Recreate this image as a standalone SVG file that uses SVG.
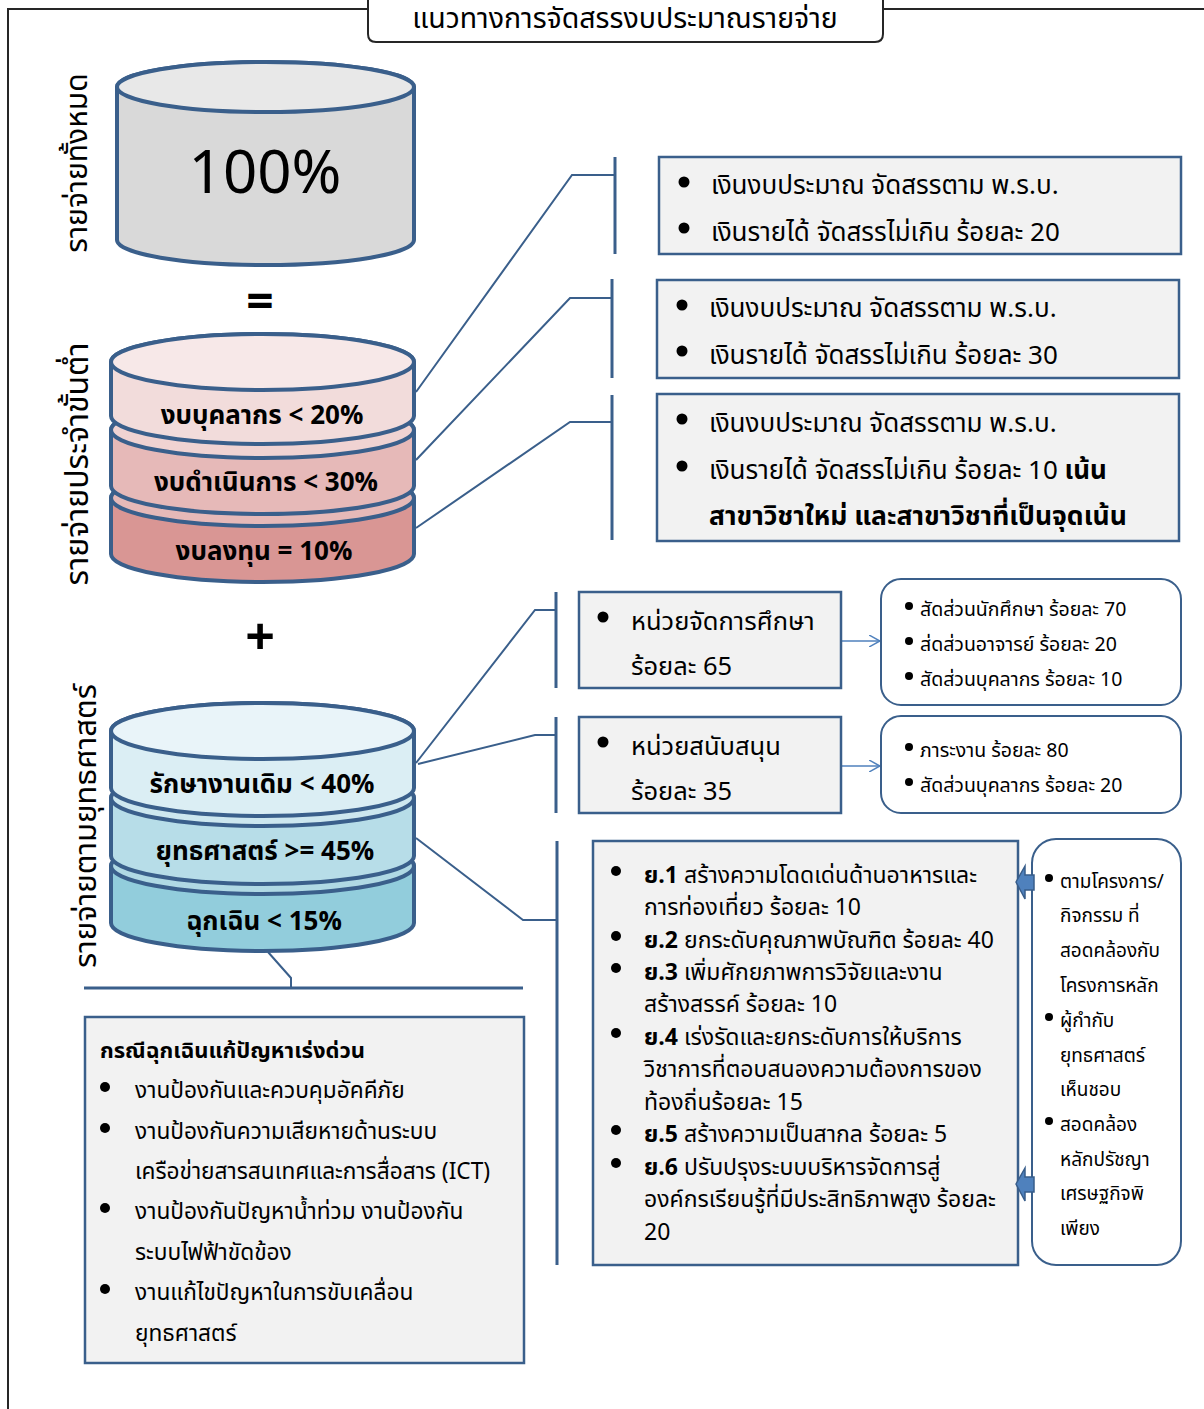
<svg xmlns="http://www.w3.org/2000/svg" width="1204" height="1409" viewBox="0 0 1204 1409">
<defs>
<style>
.t{font-family:"Noto Sans Thai","Noto Sans","DejaVu Sans",sans-serif;fill:#000}
.b{font-weight:bold}
.box{fill:#f2f2f2;stroke:#3a5f8b;stroke-width:2.5}
.rbox{fill:#fff;stroke:#3a5f8b;stroke-width:2}
.cyl{stroke:#3a5f8b;stroke-width:4}
.con{fill:none;stroke:#3a5f8b;stroke-width:2}
.brk{fill:none;stroke:#3a5f8b;stroke-width:3}
.arr{fill:none;stroke:#4f81bd;stroke-width:1.5}
.blk{fill:#4f81bd;stroke:#385d8a;stroke-width:1.5}
</style>
<marker id="oa" viewBox="0 0 12 12" refX="11" refY="6" markerWidth="12" markerHeight="12" markerUnits="userSpaceOnUse" orient="auto">
<path d="M0,0 L11,6 L0,12" fill="none" stroke="#4f81bd" stroke-width="1.5"/>
</marker>
</defs>
<rect width="1204" height="1409" fill="#fff"/>

<g id="frame">
<path d="M8,1409 L8,9 L368,9 M883,9 L1204,9" fill="none" stroke="#262626" stroke-width="2"/>
</g>

<g id="title">
<path d="M368,-4 L368,34 Q368,42 376,42 L875,42 Q883,42 883,34 L883,-4" fill="#fff" stroke="#262626" stroke-width="2"/>
<text class="t" x="625" y="28" font-size="28.5" text-anchor="middle">แนวทางการจัดสรรงบประมาณรายจ่าย</text>
</g>

<g id="connectors">
<path class="con" d="M416,392 L572,175 L615,175"/>
<path class="brk" d="M615,157 L615,254"/>
<path class="con" d="M416,460 L570,298 L612,298"/>
<path class="brk" d="M612,279 L612,378"/>
<path class="con" d="M416,528 L570,422 L612,422"/>
<path class="brk" d="M612,395 L612,540"/>
<path class="con" d="M416,763 L535,610 L556,610"/>
<path class="brk" d="M556,592 L556,688"/>
<path class="con" d="M418,764 L535,735 L556,735"/>
<path class="brk" d="M556,717 L556,813"/>
<path class="con" d="M416,838 L523,920 L557,920"/>
<path class="brk" d="M557,841 L557,1265"/>
<path class="con" d="M268,952 L291,978 L291,988"/>
<path class="brk" d="M84,988 L523,988"/>
<line class="arr" x1="842" y1="641" x2="880" y2="641" marker-end="url(#oa)"/>
<line class="arr" x1="842" y1="766" x2="880" y2="766" marker-end="url(#oa)"/>
</g>

<g id="cyl-total">
<path class="cyl" fill="#d9d9d9" d="M117,87 L117,240 A148.5,25 0 0 0 414,240 L414,87 A148.5,25 0 0 0 117,87 Z"/>
<ellipse class="cyl" cx="265.5" cy="87" rx="148.5" ry="25" fill="#e8e8e8"/>
<text class="t" x="265" y="193" font-size="60" text-anchor="middle">100%</text>
</g>
<text class="t" transform="translate(87,163) rotate(-90)" font-size="30" text-anchor="middle">รายจ่ายทั้งหมด</text>
<text class="t b" x="260" y="318" font-size="48" text-anchor="middle">=</text>

<g id="cyl-min">
<path class="cyl" fill="#d99694" d="M111,498 L111,554 A151.5,28 0 0 0 414,554 L414,498 A151.5,28 0 0 0 111,498 Z"/>
<ellipse class="cyl" cx="262.5" cy="498" rx="151.5" ry="28" fill="#e6b9b8"/>
<path class="cyl" fill="#e6b9b8" d="M111,430 L111,486 A151.5,28 0 0 0 414,486 L414,430 A151.5,28 0 0 0 111,430 Z"/>
<ellipse class="cyl" cx="262.5" cy="430" rx="151.5" ry="28" fill="#f0d3d2"/>
<path class="cyl" fill="#f2dcdb" d="M111,362 L111,416 A151.5,28 0 0 0 414,416 L414,362 A151.5,28 0 0 0 111,362 Z"/>
<ellipse class="cyl" cx="262.5" cy="362" rx="151.5" ry="28" fill="#f7e8e8"/>
<text class="t b" x="262" y="424" font-size="26" text-anchor="middle">งบบุคลากร &lt; 20%</text>
<text class="t b" x="266" y="491" font-size="26" text-anchor="middle">งบดำเนินการ &lt; 30%</text>
<text class="t b" x="264" y="560" font-size="26" text-anchor="middle">งบลงทุน = 10%</text>
</g>
<text class="t" transform="translate(88,464) rotate(-90)" font-size="32" text-anchor="middle">รายจ่ายประจำขั้นต่ำ</text>
<text class="t b" x="260" y="655" font-size="52" text-anchor="middle">+</text>

<g id="cyl-strat">
<path class="cyl" fill="#92cddc" d="M111,866 L111,923 A151.5,28 0 0 0 414,923 L414,866 A151.5,28 0 0 0 111,866 Z"/>
<ellipse class="cyl" cx="262.5" cy="866" rx="151.5" ry="28" fill="#b0d9e4"/>
<path class="cyl" fill="#b7dde8" d="M111,798 L111,856 A151.5,28 0 0 0 414,856 L414,798 A151.5,28 0 0 0 111,798 Z"/>
<ellipse class="cyl" cx="262.5" cy="798" rx="151.5" ry="28" fill="#cde7ef"/>
<path class="cyl" fill="#dbeef4" d="M111,731 L111,788 A151.5,28 0 0 0 414,788 L414,731 A151.5,28 0 0 0 111,731 Z"/>
<ellipse class="cyl" cx="262.5" cy="731" rx="151.5" ry="28" fill="#e9f4f9"/>
<text class="t b" x="262" y="793" font-size="26" text-anchor="middle">รักษางานเดิม &lt; 40%</text>
<text class="t b" x="265" y="860" font-size="26" text-anchor="middle">ยุทธศาสตร์ &gt;= 45%</text>
<text class="t b" x="264" y="930" font-size="26" text-anchor="middle">ฉุกเฉิน &lt; 15%</text>
</g>
<text class="t" transform="translate(96,826) rotate(-90)" font-size="31" text-anchor="middle">รายจ่ายตามยุทธศาสตร์</text>

<g id="box-a">
<rect class="box" x="659" y="157" width="522" height="97"/>
<circle cx="684" cy="182" r="5.5"/><circle cx="684" cy="228" r="5.5"/>
<text class="t" x="711" y="194" font-size="26">เงินงบประมาณ จัดสรรตาม พ.ร.บ.</text>
<text class="t" x="711" y="241" font-size="26">เงินรายได้ จัดสรรไม่เกิน ร้อยละ 20</text>
</g>
<g id="box-b">
<rect class="box" x="657" y="280" width="522" height="98"/>
<circle cx="682" cy="305" r="5.5"/><circle cx="682" cy="351" r="5.5"/>
<text class="t" x="709" y="317" font-size="26">เงินงบประมาณ จัดสรรตาม พ.ร.บ.</text>
<text class="t" x="709" y="364" font-size="26">เงินรายได้ จัดสรรไม่เกิน ร้อยละ 30</text>
</g>
<g id="box-c">
<rect class="box" x="657" y="394" width="522" height="147"/>
<circle cx="682" cy="419" r="5.5"/><circle cx="682" cy="466" r="5.5"/>
<text class="t" x="709" y="432" font-size="26">เงินงบประมาณ จัดสรรตาม พ.ร.บ.</text>
<text class="t" x="709" y="479" font-size="26">เงินรายได้ จัดสรรไม่เกิน ร้อยละ 10 <tspan class="b">เน้น</tspan></text>
<text class="t b" x="709" y="525" font-size="26.5">สาขาวิชาใหม่ และสาขาวิชาที่เป็นจุดเน้น</text>
</g>

<g id="box-d">
<rect class="box" x="579" y="592" width="262" height="96"/>
<circle cx="603" cy="617" r="5.5"/>
<text class="t" x="631" y="630" font-size="25.5">หน่วยจัดการศึกษา</text>
<text class="t" x="631" y="675" font-size="25.5">ร้อยละ 65</text>
</g>
<g id="box-e">
<rect class="box" x="579" y="717" width="262" height="96"/>
<circle cx="603" cy="742" r="5.5"/>
<text class="t" x="631" y="755" font-size="25.5">หน่วยสนับสนุน</text>
<text class="t" x="631" y="800" font-size="25.5">ร้อยละ 35</text>
</g>

<g id="box-h">
<rect class="rbox" x="881" y="579" width="300" height="126" rx="20"/>
<circle cx="909" cy="606" r="4"/><circle cx="909" cy="641" r="4"/><circle cx="909" cy="676" r="4"/>
<text class="t" x="920" y="616" font-size="19.5">สัดส่วนนักศึกษา ร้อยละ 70</text>
<text class="t" x="920" y="651" font-size="19.5">ส่ดส่วนอาจารย์ ร้อยละ 20</text>
<text class="t" x="920" y="686" font-size="19.5">สัดส่วนบุคลากร ร้อยละ 10</text>
</g>
<g id="box-i">
<rect class="rbox" x="881" y="716" width="300" height="97" rx="20"/>
<circle cx="909" cy="747" r="4"/><circle cx="909" cy="782" r="4"/>
<text class="t" x="920" y="757" font-size="19.5">ภาระงาน ร้อยละ 80</text>
<text class="t" x="920" y="792" font-size="19.5">สัดส่วนบุคลากร ร้อยละ 20</text>
</g>

<g id="box-f">
<rect class="box" x="593" y="841" width="425" height="424"/>
<g font-size="23">
<circle cx="616" cy="871" r="5"/><circle cx="616" cy="936" r="5"/><circle cx="616" cy="968" r="5"/><circle cx="616" cy="1033" r="5"/><circle cx="616" cy="1130" r="5"/><circle cx="616" cy="1163" r="5"/>
<text class="t" x="644" y="883"><tspan class="b">ย.1</tspan> สร้างความโดดเด่นด้านอาหารและ</text>
<text class="t" x="644" y="915">การท่องเที่ยว ร้อยละ 10</text>
<text class="t" x="644" y="948"><tspan class="b">ย.2</tspan> ยกระดับคุณภาพบัณฑิต ร้อยละ 40</text>
<text class="t" x="644" y="980"><tspan class="b">ย.3</tspan> เพิ่มศักยภาพการวิจัยและงาน</text>
<text class="t" x="644" y="1012">สร้างสรรค์ ร้อยละ 10</text>
<text class="t" x="644" y="1045"><tspan class="b">ย.4</tspan> เร่งรัดและยกระดับการให้บริการ</text>
<text class="t" x="644" y="1077">วิชาการที่ตอบสนองความต้องการของ</text>
<text class="t" x="644" y="1110">ท้องถิ่นร้อยละ 15</text>
<text class="t" x="644" y="1142"><tspan class="b">ย.5</tspan> สร้างความเป็นสากล ร้อยละ 5</text>
<text class="t" x="644" y="1175"><tspan class="b">ย.6</tspan> ปรับปรุงระบบบริหารจัดการสู่</text>
<text class="t" x="644" y="1207">องค์กรเรียนรู้ที่มีประสิทธิภาพสูง ร้อยละ</text>
<text class="t" x="644" y="1240">20</text>
</g>
</g>

<g id="box-g">
<rect class="rbox" x="1032" y="839" width="149" height="426" rx="24"/>
<circle cx="1049" cy="878" r="4"/><circle cx="1049" cy="1017" r="4"/><circle cx="1049" cy="1121" r="4"/>
<g font-size="19">
<text class="t" x="1060" y="888">ตามโครงการ/</text>
<text class="t" x="1060" y="922">กิจกรรม ที่</text>
<text class="t" x="1060" y="957">สอดคล้องกับ</text>
<text class="t" x="1060" y="992">โครงการหลัก</text>
<text class="t" x="1060" y="1027">ผู้กำกับ</text>
<text class="t" x="1060" y="1062">ยุทธศาสตร์</text>
<text class="t" x="1060" y="1096">เห็นชอบ</text>
<text class="t" x="1060" y="1131">สอดคล้อง</text>
<text class="t" x="1060" y="1166">หลักปรัชญา</text>
<text class="t" x="1060" y="1200">เศรษฐกิจพิ</text>
<text class="t" x="1060" y="1235">เพียง</text>
</g>
</g>

<g id="arrows-g">
<path class="blk" d="M1016,882 L1025,866 L1025,875 L1034,875 L1034,890 L1025,890 L1025,899 Z"/>
<path class="blk" d="M1016,1184 L1025,1168 L1025,1177 L1034,1177 L1034,1192 L1025,1192 L1025,1201 Z"/>
</g>

<g id="box-emergency">
<rect class="box" x="85" y="1017" width="439" height="346"/>
<circle cx="105" cy="1087" r="5"/><circle cx="105" cy="1128" r="5"/><circle cx="105" cy="1208" r="5"/><circle cx="105" cy="1289" r="5"/>
<g font-size="22.7">
<text class="t b" x="100" y="1058" font-size="22">กรณีฉุกเฉินแก้ปัญหาเร่งด่วน</text>
<text class="t" x="135" y="1098">งานป้องกันและควบคุมอัคคีภัย</text>
<text class="t" x="135" y="1139">งานป้องกันความเสียหายด้านระบบ</text>
<text class="t" x="135" y="1179">เครือข่ายสารสนเทศและการสื่อสาร (ICT)</text>
<text class="t" x="135" y="1219">งานป้องกันปัญหาน้ำท่วม  งานป้องกัน</text>
<text class="t" x="135" y="1260">ระบบไฟฟ้าขัดข้อง</text>
<text class="t" x="135" y="1300">งานแก้ไขปัญหาในการขับเคลื่อน</text>
<text class="t" x="135" y="1341">ยุทธศาสตร์</text>
</g>
</g>
</svg>
